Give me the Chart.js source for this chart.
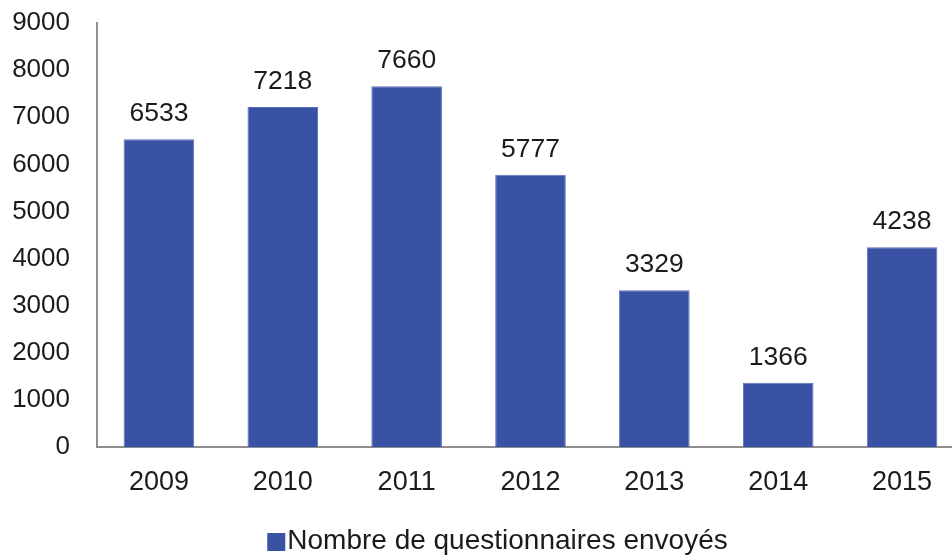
<!DOCTYPE html>
<html>
<head>
<meta charset="utf-8">
<script src="https://cdn.jsdelivr.net/npm/chart.js@4/dist/chart.umd.min.js"></script>
<style>
  html, body { margin: 0; padding: 0; background: #fff; overflow: hidden; width: 952px; height: 555px; }
  #wrap { position: absolute; left: 0; top: 0; width: 995px; height: 555px; }
</style>
</head>
<body>
<div id="wrap"><canvas id="c"></canvas></div>
<script>
const categories = ['2009', '2010', '2011', '2012', '2013', '2014', '2015'];
const seriesName = 'Nombre de questionnaires envoyés';
const values = [6533, 7218, 7660, 5777, 3329, 1366, 4238];
const yTicks = [0, 1000, 2000, 3000, 4000, 5000, 6000, 7000, 8000, 9000];

const FONT = "'Liberation Sans', Arial, sans-serif";
const BAR = '#3A52A3';
const TEXT = '#1b1b1b';

const labelPlugin = {
  id: 'valueLabels',
  afterDatasetsDraw(chart) {
    const ctx = chart.ctx;
    const meta = chart.getDatasetMeta(0);
    ctx.save();
    ctx.font = '26.5px ' + FONT;
    ctx.fillStyle = TEXT;
    ctx.textAlign = 'center';
    ctx.textBaseline = 'alphabetic';
    meta.data.forEach((bar, i) => {
      ctx.fillText(String(values[i]), bar.x, bar.y - 18);
    });
    ctx.restore();
  }
};

const legendPlugin = {
  id: 'customLegend',
  afterDraw(chart) {
    const ctx = chart.ctx;
    ctx.save();
    ctx.font = '28px ' + FONT;
    const tw = ctx.measureText(seriesName).width;
    const box = 18, gap = 2;
    const total = box + gap + tw;
    const cx = chart.width / 2;
    const x0 = cx - total / 2;
    const cy = 541;
    ctx.fillStyle = BAR;
    ctx.fillRect(x0, cy - box / 2 + 1, box, box);
    ctx.fillStyle = TEXT;
    ctx.textAlign = 'left';
    ctx.textBaseline = 'middle';
    ctx.fillText(seriesName, x0 + box + gap, cy);
    ctx.restore();
  }
};

new Chart(document.getElementById('c'), {
  type: 'bar',
  data: {
    labels: categories,
    datasets: [{
      label: seriesName,
      data: values,
      backgroundColor: BAR,
      borderColor: '#5c6fb8',
      borderWidth: 1,
      barPercentage: 0.57,
      categoryPercentage: 1.0
    }]
  },
  options: {
    responsive: true,
    maintainAspectRatio: false,
    animation: false,
    devicePixelRatio: 1,
    layout: { padding: { left: 0, right: 31, top: 23, bottom: 30 } },
    plugins: {
      legend: { display: false },
      tooltip: { enabled: false }
    },
    scales: {
      x: {
        grid: { display: false, drawTicks: false },
        border: { display: true, color: '#8e8e8e', width: 2 },
        ticks: { color: TEXT, font: { family: FONT, size: 27 }, padding: 19, maxRotation: 0 },
        afterFit(scale) { scale.height = 78; }
      },
      y: {
        min: 0,
        max: 9000,
        afterBuildTicks(scale) { scale.ticks = yTicks.map(v => ({ value: v })); },
        grid: { display: false, drawTicks: false },
        border: { display: true, color: '#8e8e8e', width: 2 },
        ticks: { color: TEXT, font: { family: FONT, size: 26 }, padding: 27, callback: (v) => String(v) },
        afterFit(scale) { scale.width = 97; scale.paddingTop = 0; scale.paddingBottom = 0; }
      }
    }
  },
  plugins: [labelPlugin, legendPlugin]
});
</script>
</body>
</html>
